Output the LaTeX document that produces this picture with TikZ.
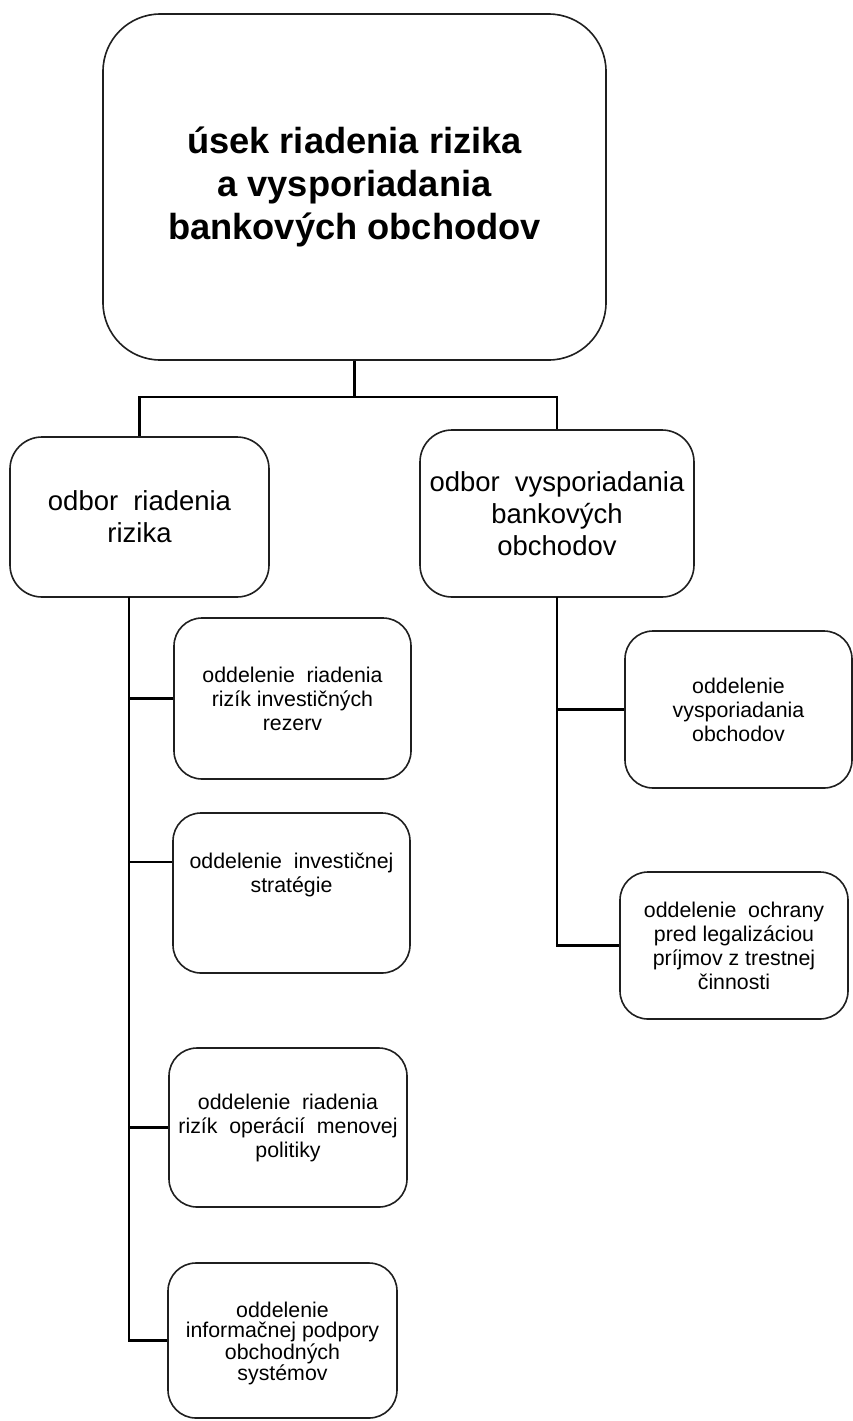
\documentclass[tikz,border=0pt]{standalone}
\usepackage{fontspec}
\setmainfont{Liberation Sans}
\usetikzlibrary{calc}
\newcommand\wsp{\hspace{0.55em}}
\begin{document}
\begin{tikzpicture}[x=0.75pt,y=-0.75pt,
  boxline/.style={draw=black!88, line width=1.2pt, align=center, inner sep=0pt, fill=white},
  topbox/.style={boxline, rounded corners=43pt, font=\bfseries\fontsize{27.2}{32.5}\selectfont},
  midbox/.style={boxline, rounded corners=24pt, font=\fontsize{20.6}{24}\selectfont},
  subbox/.style={boxline, rounded corners=21pt},
  subtext/.style={align=center, inner sep=0pt, font=\fontsize{16}{18}\selectfont},
  conn/.style={draw=black, line width=2.2pt, line join=miter}]
\useasboundingbox (0,0) rectangle (853,1421);

% head of the division
\node[topbox, minimum width=377.25pt, minimum height=259.5pt] (top) at (354.5,187)
  {úsek riadenia rizika\\a vysporiadania\\bankových obchodov};

% departments
\node[midbox, minimum width=194.25pt, minimum height=120pt] (l1) at (139.5,517)
  {odbor\wsp riadenia\\rizika};
\node[midbox, minimum width=205.5pt, minimum height=125.25pt] (r1) at (557,513.5)
  {odbor\wsp vysporiadania\\bankových\\obchodov};

% sections under the risk department
\node[subbox, minimum width=177.75pt, minimum height=120.75pt] (s1) at (292.5,698.5) {};
\node[subtext] (s1t) at (s1.center) {oddelenie\wsp riadenia\\rizík investičných\\rezerv};
\node[subbox, minimum width=177.75pt, minimum height=120pt] (s2) at (291.5,893) {};
\node[subtext] (s2t) at ($(s2.center)+(0,-18)$) {oddelenie\wsp investičnej\\stratégie};
\node[subbox, minimum width=178.5pt, minimum height=119.25pt] (s3) at (288,1127.5) {};
\node[subtext] (s3t) at (s3.center) {oddelenie\wsp riadenia\\rizík\wsp operácií\wsp menovej\\politiky};
\node[subbox, minimum width=171.75pt, minimum height=116.25pt] (s4) at (282.5,1340.5) {};
\node[subtext, font=\fontsize{16}{15}\selectfont] (s4t) at ($(s4.center)+(0,3)$)
  {oddelenie\\informačnej podpory\\obchodných\\systémov};

% sections under the settlement department
\node[subbox, minimum width=170.25pt, minimum height=117.75pt] (ra) at (738.5,709.5) {};
\node[subtext] (rat) at (ra.center) {oddelenie\\vysporiadania\\obchodov};
\node[subbox, minimum width=171pt, minimum height=110.25pt] (rb) at (734,945.5) {};
\node[subtext] (rbt) at (rb.center) {oddelenie\wsp ochrany\\pred legalizáciou\\príjmov z trestnej\\činnosti};

% connectors
\coordinate (j) at (354.5,397);
\draw[conn] (top.south) -- (j);
\draw[conn] (l1.north) |- (j) -| (r1.north);

\coordinate (lt) at (129,597);
\draw[conn] (lt) |- (s4.west);
\draw[conn] (s1.west) -- (s1.west -| lt);
\coordinate (s2b) at ($(s2.west)+(0,-31)$);
\draw[conn] (s2b) -- (s2b -| lt);
\draw[conn] (s3.west) -- (s3.west -| lt);

\coordinate (rt) at (557,597);
\draw[conn] (rt) |- (rb.west);
\draw[conn] (ra.west) -- (ra.west -| rt);
\end{tikzpicture}
\end{document}
